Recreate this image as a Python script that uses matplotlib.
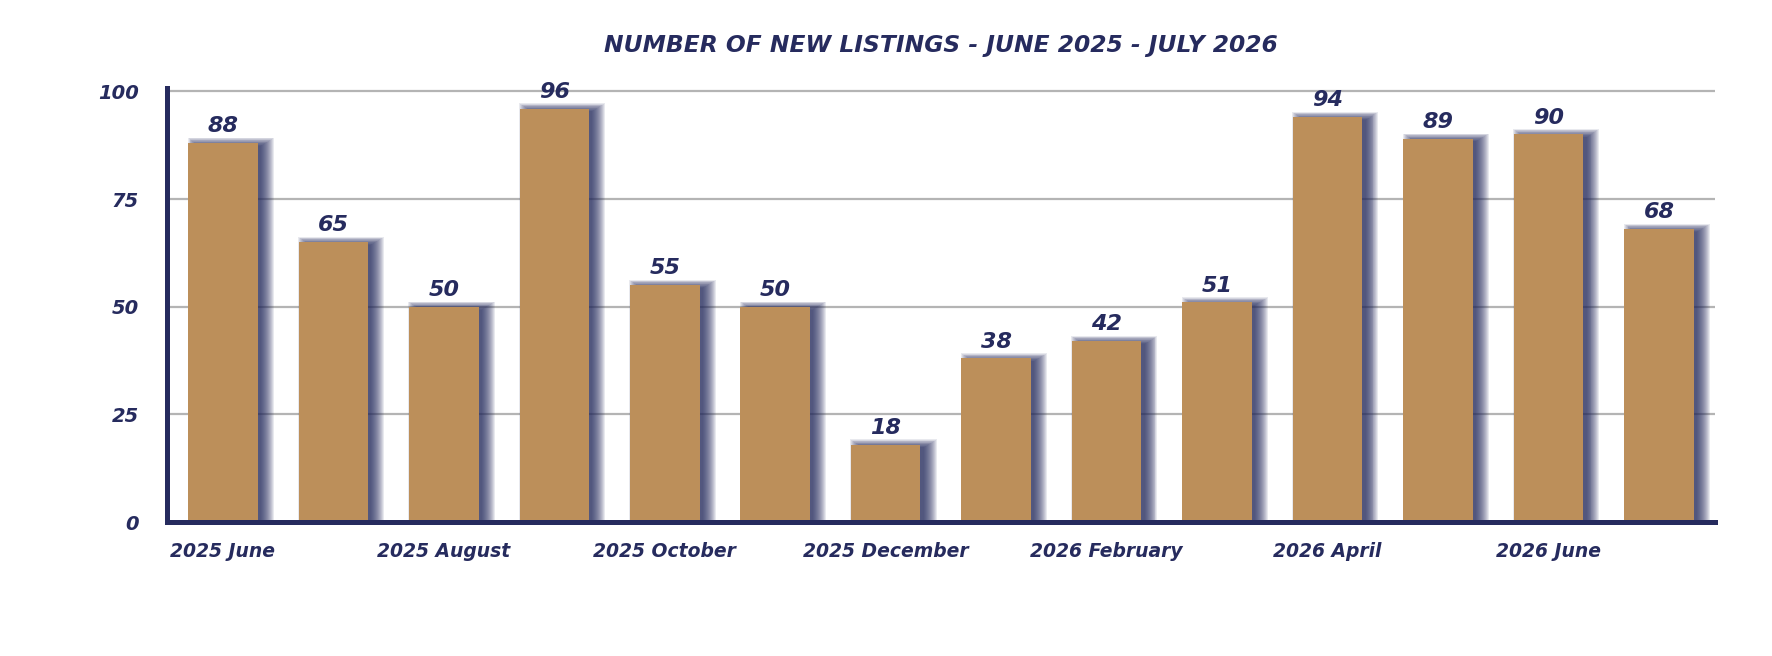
import matplotlib

matplotlib.use("Agg")

import matplotlib.pyplot as plt

months = [
    "2025 June", "2025 July", "2025 August", "2025 September", "2025 October",
    "2025 November", "2025 December", "2026 January", "2026 February",
    "2026 March", "2026 April", "2026 May", "2026 June", "2026 July",
]
new_listings = [88, 65, 50, 96, 55, 50, 18, 38, 42, 51, 94, 89, 90, 68]
y_ticks = [0, 25, 50, 75, 100]

NAVY = "#262b5e"
BAR = "#bc8f5a"

plt.rcParams["font.family"] = ["DejaVu Sans"]

fig = plt.figure(figsize=(17.72, 6.56), dpi=100)
ax = fig.add_axes([0.094, 0.204, 0.874, 0.662])

x = list(range(len(months)))
width = 0.63

# soft blurred navy shadow: same bar shifted right, built from faint layers
n_layers = 14
for k in range(n_layers):
    s = 0.075 - 0.115 * k / (n_layers - 1)
    ax.bar([i + 0.07 for i in x], [v + s * 16 for v in new_listings],
           width=width + 2 * s, color=NAVY, alpha=0.1, linewidth=0, zorder=2)

ax.bar(x, new_listings, width=width, color=BAR, linewidth=0, zorder=3)

for i, v in zip(x, new_listings):
    ax.text(i, v + 1.6, str(v), ha="center", va="bottom", fontsize=16,
            fontweight="bold", fontstyle="italic", color=NAVY, zorder=4)

ax.set_xlim(-0.51, 13.51)
ax.set_ylim(0, 100.8)
ax.set_yticks(y_ticks)
ax.set_xticks(x[::2])
ax.set_xticklabels(months[::2])

ax.grid(axis="y", color="#b4b4b4", linewidth=1.6, zorder=1)
ax.set_axisbelow(True)

for side in ["top", "right"]:
    ax.spines[side].set_visible(False)
for side in ["left", "bottom"]:
    ax.spines[side].set_color(NAVY)
    ax.spines[side].set_linewidth(3.6)
    ax.spines[side].set_zorder(5)

ax.tick_params(axis="both", length=0, colors=NAVY)
ax.tick_params(axis="y", pad=20, labelsize=14)
ax.tick_params(axis="x", pad=14, labelsize=13.5)
for lab in ax.get_xticklabels() + ax.get_yticklabels():
    lab.set_fontweight("bold")
    lab.set_fontstyle("italic")

fig.text(0.531, 0.93, "NUMBER OF NEW LISTINGS - JUNE 2025 - JULY 2026",
         ha="center", va="center", fontsize=16.8, fontweight="bold",
         fontstyle="italic", color=NAVY)

fig.savefig("out.png", dpi=100, facecolor="white")
